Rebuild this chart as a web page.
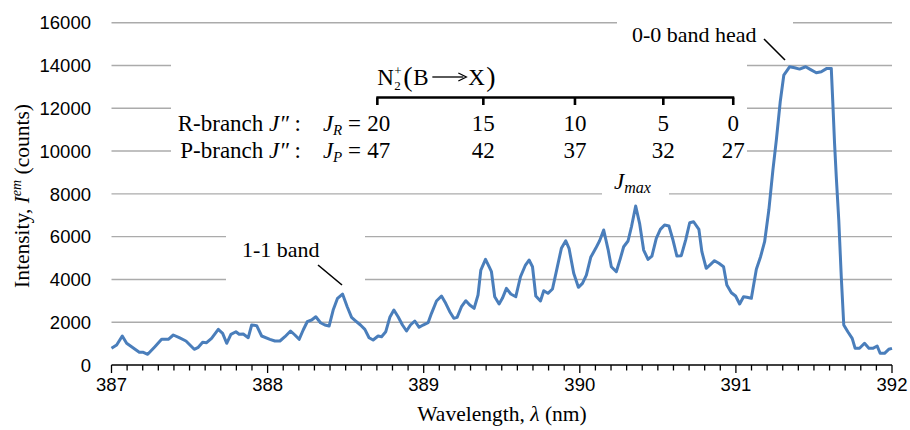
<!DOCTYPE html>
<html>
<head>
<meta charset="utf-8">
<script src="https://cdn.jsdelivr.net/npm/d3@7"></script>
<style>
body { margin: 0; background: #fff; }
text { font-family: "Liberation Serif", "Times New Roman", serif; fill: #000; }
.tick-label { font-family: "Liberation Sans", Arial, sans-serif; }
</style>
</head>
<body>
<script>
// spectrum (nm, counts)
const wavelength = [
	387.0, 387.033, 387.069, 387.097, 387.133, 387.178, 387.204, 387.232, 387.278, 387.321,
	387.364, 387.396, 387.434, 387.477, 387.53, 387.556, 387.584, 387.609, 387.641, 387.684,
	387.712, 387.738, 387.765, 387.797, 387.818, 387.844, 387.876, 387.898, 387.93, 387.962,
	388.015, 388.047, 388.079, 388.111, 388.147, 388.175, 388.202, 388.228, 388.254, 388.282,
	388.309, 388.339, 388.367, 388.394, 388.42, 388.448, 388.48, 388.51, 388.538, 388.565,
	388.595, 388.623, 388.65, 388.676, 388.708, 388.73, 388.757, 388.783, 388.809, 388.836,
	388.864, 388.89, 388.915, 388.943, 388.971, 388.996, 389.028, 389.05, 389.082, 389.114,
	389.141, 389.167, 389.193, 389.214, 389.242, 389.27, 389.295, 389.323, 389.348, 389.366,
	389.396, 389.419, 389.434, 389.455, 389.483, 389.504, 389.53, 389.558, 389.59, 389.62,
	389.652, 389.675, 389.697, 389.718, 389.748, 389.769, 389.796, 389.825, 389.854, 389.882,
	389.91, 389.931, 389.961, 389.991, 390.017, 390.042, 390.07, 390.102, 390.127, 390.153,
	390.181, 390.202, 390.234, 390.26, 390.281, 390.309, 390.331, 390.358, 390.383, 390.409,
	390.437, 390.462, 390.49, 390.516, 390.543, 390.571, 390.597, 390.622, 390.65, 390.678,
	390.704, 390.729, 390.763, 390.782, 390.81, 390.838, 390.863, 390.891, 390.921, 390.942,
	390.971, 390.998, 391.024, 391.049, 391.07, 391.099, 391.131, 391.158, 391.184, 391.211,
	391.237, 391.259, 391.284, 391.307, 391.344, 391.376, 391.408, 391.447, 391.476, 391.515,
	391.547, 391.583, 391.611, 391.621, 391.632, 391.643, 391.659, 391.675, 391.691, 391.717,
	391.745, 391.764, 391.792, 391.824, 391.852, 391.877, 391.905, 391.924, 391.952, 391.979,
	392.0
];
const intensity = [
	780, 935, 1355, 1014, 827, 593, 593, 500, 855, 1201,
	1201, 1402, 1276, 1122, 734, 827, 1061, 1042, 1248, 1668,
	1481, 1014, 1435, 1556, 1435, 1449, 1276, 1869, 1837, 1355,
	1201, 1122, 1122, 1322, 1589, 1402, 1201, 1636, 2023, 2103,
	2257, 1977, 1869, 1822, 2570, 3117, 3318, 2724, 2229, 2056,
	1869, 1668, 1276, 1168, 1355, 1322, 1556, 2229, 2570, 2257,
	1869, 1589, 1869, 2056, 1762, 1869, 1977, 2416, 2991, 3224,
	2883, 2491, 2182, 2229, 2724, 3005, 2804, 2650, 3271, 4439,
	4939, 4594, 4360, 3192, 2851, 3117, 3584, 3318, 3192, 4126,
	4673, 4907, 4594, 3224, 2991, 3472, 3351, 3551, 4519, 5454,
	5809, 5454, 4285, 3631, 3818, 4206, 5033, 5454, 5809, 6309,
	5407, 4594, 4360, 4986, 5528, 5795, 6463, 7430, 6622, 5374,
	4939, 5094, 5921, 6341, 6542, 6496, 5841, 5094, 5108, 5841,
	6650, 6696, 6341, 5295, 4519, 4706, 4874, 4752, 4594, 3738,
	3379, 3224, 2851, 3192, 3164, 3117, 4472, 5061, 5762, 7243,
	9112, 10514, 12304, 13552, 13940, 13893, 13832, 13940, 13818, 13659,
	13706, 13865, 13865, 12243, 10360, 8799, 6776, 4126, 1869, 1556,
	1248, 780, 780, 1014, 780, 780, 888, 547, 547, 734,
	780
];

const yTicks = [0, 2000, 4000, 6000, 8000, 10000, 12000, 14000, 16000];
const xTicks = [387, 388, 389, 390, 391, 392];

// rotational lines of N2+ (B-X) marked on the bracket
const branchWavelength = [388.703, 389.382, 389.969, 390.535, 390.983];
const branchR = [20, 15, 10, 5, 0];
const branchP = [47, 42, 37, 32, 27];

const svgWidth = 910;
const svgHeight = 430;
const margin = { top: 22.7, right: 18, bottom: 65, left: 111.5 };

const svg = d3
	.select("body")
	.append("svg")
	.attr("width", svgWidth)
	.attr("height", svgHeight);

//scale
const xScale = d3
	.scaleLinear()
	.domain([387, 392])
	.range([margin.left, svgWidth - margin.right]);

const yScale = d3
	.scaleLinear()
	.domain([0, 16000])
	.range([svgHeight - margin.bottom, margin.top]);

//=====
//gridlines
//=====
svg
	.selectAll(".grid")
	.data(yTicks.filter((d) => d > 0))
	.enter()
	.append("line")
	.attr("class", "grid")
	.attr("x1", xScale(387))
	.attr("x2", xScale(392))
	.attr("y1", (d) => yScale(d))
	.attr("y2", (d) => yScale(d))
	.attr("stroke", "#ababab")
	.attr("stroke-width", 1.4);

// white text boxes sit over the gridlines
const boxes = [
	{ x: 617, y: 10, w: 176, h: 36 },
	{ x: 171, y: 52, w: 576, h: 110 },
	{ x: 602, y: 174, w: 67, h: 28 },
	{ x: 226, y: 228, w: 139, h: 58 },
];
svg
	.selectAll(".box")
	.data(boxes)
	.enter()
	.append("rect")
	.attr("x", (d) => d.x)
	.attr("y", (d) => d.y)
	.attr("width", (d) => d.w)
	.attr("height", (d) => d.h)
	.attr("fill", "#fff");

//=====
//x-axis
//=====
const y0 = yScale(0);
svg
	.append("line")
	.attr("x1", xScale(387))
	.attr("x2", xScale(392))
	.attr("y1", y0)
	.attr("y2", y0)
	.attr("stroke", "#000")
	.attr("stroke-width", 1.5);

svg
	.selectAll(".minor")
	.data(xScale.ticks(50))
	.enter()
	.append("line")
	.attr("x1", (d) => xScale(d))
	.attr("x2", (d) => xScale(d))
	.attr("y1", y0)
	.attr("y2", (d) => y0 + (Math.abs(d - Math.round(d)) < 1e-6 ? 8 : 5.5))
	.attr("stroke", "#000")
	.attr("stroke-width", 1.3);

svg
	.selectAll(".xlabel")
	.data(xTicks)
	.enter()
	.append("text")
	.attr("class", "tick-label")
	.attr("x", (d) => xScale(d))
	.attr("y", 391)
	.attr("text-anchor", "middle")
	.attr("font-size", 18.5)
	.text((d) => d);

//y labels
svg
	.selectAll(".ylabel")
	.data(yTicks)
	.enter()
	.append("text")
	.attr("class", "tick-label")
	.attr("x", 91)
	.attr("y", (d) => yScale(d))
	.attr("dy", "0.36em")
	.attr("text-anchor", "end")
	.attr("font-size", 18.5)
	.text((d) => d);

//titles
const xt = svg
	.append("text")
	.attr("x", 502)
	.attr("y", 421)
	.attr("text-anchor", "middle")
	.attr("font-size", 21.5);
xt.append("tspan").text("Wavelength, ");
xt.append("tspan").attr("font-style", "italic").text("λ");
xt.append("tspan").text(" (nm)");

const yt = svg
	.append("text")
	.attr("transform", "translate(29,196) rotate(-90)")
	.attr("text-anchor", "middle")
	.attr("font-size", 21.5);
yt.append("tspan").text("Intensity, ");
yt.append("tspan").attr("font-style", "italic").text("I");
yt.append("tspan").attr("font-style", "italic").attr("font-size", 14).attr("dy", -8).text("em");
yt.append("tspan").attr("dy", 8).text(" (counts)");

//=====
//spectrum
//=====
const line = d3
	.line()
	.x((d, i) => xScale(wavelength[i]))
	.y((d) => yScale(d));

svg
	.append("path")
	.datum(intensity)
	.attr("d", line)
	.attr("fill", "none")
	.attr("stroke", "#4a7ebb")
	.attr("stroke-width", 3)
	.attr("stroke-linejoin", "round");

//=====
//annotations
//=====
function note(x, y, str) {
	return svg.append("text").attr("x", x).attr("y", y).attr("font-size", 22).text(str);
}
note(632, 42, "0-0 band head");
note(242, 257, "1-1 band");

svg.append("line").attr("x1", 764).attr("y1", 39).attr("x2", 785).attr("y2", 60)
	.attr("stroke", "#000").attr("stroke-width", 1.6);
svg.append("line").attr("x1", 318).attr("y1", 265).attr("x2", 342).attr("y2", 285)
	.attr("stroke", "#000").attr("stroke-width", 1.6);

const jm = svg.append("text").attr("x", 614).attr("y", 189).attr("font-size", 23);
jm.append("tspan").attr("font-style", "italic").text("J");
jm.append("tspan").attr("font-style", "italic").attr("font-size", 16).attr("dy", 4).text("max");

// N2+ (B -> X)
const bx = branchWavelength.map((d) => xScale(d));
const nx = bx[0];
svg.append("text").attr("x", nx).attr("y", 85).attr("font-size", 23).text("N");
svg.append("text").attr("x", nx + 17).attr("y", 75).attr("font-size", 13).text("+");
svg.append("text").attr("x", nx + 17).attr("y", 90).attr("font-size", 13).text("2");
svg.append("text").attr("x", nx + 26).attr("y", 86).attr("font-size", 28).text("(");
svg.append("text").attr("x", nx + 36).attr("y", 85).attr("font-size", 23).text("B");
svg.append("line").attr("x1", nx + 55).attr("x2", nx + 86).attr("y1", 77).attr("y2", 77)
	.attr("stroke", "#000").attr("stroke-width", 1.3);
svg.append("path").attr("d", `M${nx + 81},73 L${nx + 89},77 L${nx + 81},81`)
	.attr("fill", "none").attr("stroke", "#000").attr("stroke-width", 1.3);
svg.append("text").attr("x", nx + 91).attr("y", 85).attr("font-size", 23).text("X");
svg.append("text").attr("x", nx + 109).attr("y", 86).attr("font-size", 28).text(")");

const bracketY = 97.5;
svg.append("line").attr("x1", bx[0] - 1).attr("x2", bx[bx.length - 1] + 1)
	.attr("y1", bracketY).attr("y2", bracketY)
	.attr("stroke", "#000").attr("stroke-width", 2.6);
svg.selectAll(".btick").data(bx).enter().append("line")
	.attr("x1", (d) => d).attr("x2", (d) => d)
	.attr("y1", bracketY).attr("y2", bracketY + 7.5)
	.attr("stroke", "#000").attr("stroke-width", 2.6);

function row(y, branch, sub, nums) {
	const a = svg.append("text").attr("x", 301).attr("y", y).attr("text-anchor", "end").attr("font-size", 23);
	a.append("tspan").text(branch + "-branch ");
	a.append("tspan").attr("font-style", "italic").text("J″");
	a.append("tspan").text(" :");
	const b = svg.append("text").attr("x", 361).attr("y", y).attr("text-anchor", "end").attr("font-size", 23);
	b.append("tspan").attr("font-style", "italic").text("J");
	b.append("tspan").attr("font-style", "italic").attr("font-size", 15).attr("dy", 4).text(sub);
	b.append("tspan").attr("dy", -4).text(" =");
	svg.selectAll(".n" + sub).data(nums).enter().append("text")
		.attr("x", (d, i) => (i === 0 ? bx[i] - 10 : bx[i]))
		.attr("y", y)
		.attr("text-anchor", (d, i) => (i === 0 ? "start" : "middle"))
		.attr("font-size", 23)
		.text((d) => d);
}
row(131, "R", "R", branchR);
row(158, "P", "P", branchP);
</script>
</body>
</html>
